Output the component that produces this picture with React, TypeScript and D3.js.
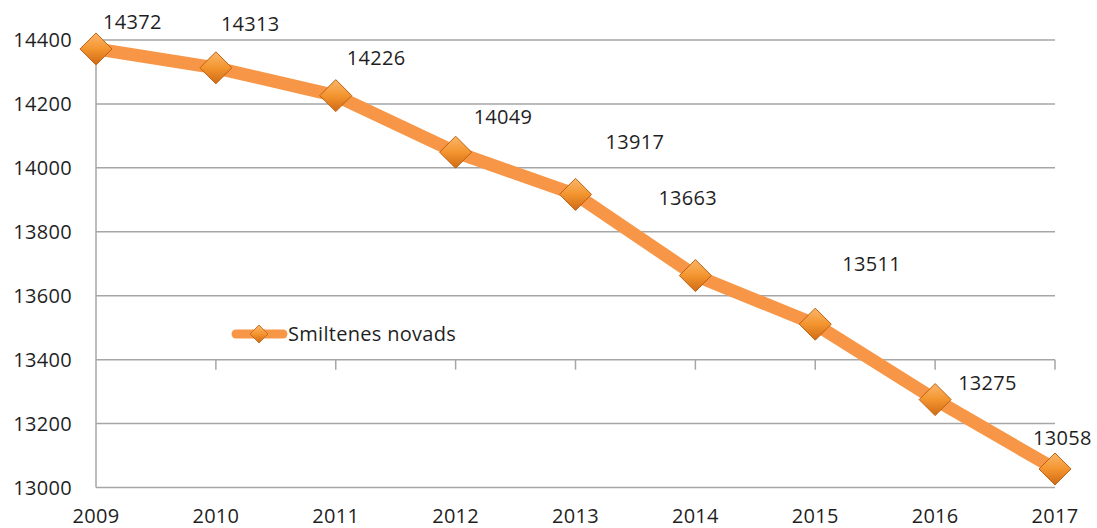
import React, { useEffect, useRef } from "react"
import * as d3 from "d3"

const years = ["2009", "2010", "2011", "2012", "2013", "2014", "2015", "2016", "2017"]
const population = [14372, 14313, 14226, 14049, 13917, 13663, 13511, 13275, 13058]
const yTicks = [13000, 13200, 13400, 13600, 13800, 14000, 14200, 14400]
const seriesName = "Smiltenes novads"

// label placement (manual, as in the source chart): left edge dx, centre dy from the point
const labelShift = [
  [7, -27], [5, -44], [11, -38], [18, -35], [30, -52],
  [-37, -78], [27, -60], [23, -17], [-22, -31]
]

const W = 1097
const H = 528
const FONT = "'Open Sans', 'Liberation Sans', sans-serif"
const FS = "20px"

function App() {
  const ref = useRef<SVGSVGElement>(null)

  useEffect(() => {
    const svg = d3.select(ref.current)
    svg.selectAll("*").remove()

    const x = d3.scalePoint().domain(years).range([96, 1055])
    const y = d3.scaleLinear().domain([13000, 14400]).range([487.5, 40])

    const defs = svg.append("defs")
    const grad = defs.append("linearGradient")
      .attr("id", "mk").attr("x1", 0).attr("y1", 0).attr("x2", 0).attr("y2", 1)
    grad.append("stop").attr("offset", "0%").attr("stop-color", "#fbb66a")
    grad.append("stop").attr("offset", "50%").attr("stop-color", "#f3952f")
    grad.append("stop").attr("offset", "100%").attr("stop-color", "#d06a15")

    // gridlines
    svg.append("g").selectAll("line").data(yTicks).enter().append("line")
      .attr("x1", 96).attr("x2", 1055)
      .attr("y1", d => y(d)).attr("y2", d => y(d))
      .attr("stroke", "#a6a6a6").attr("stroke-width", 1.5)

    // vertical axis line
    svg.append("line")
      .attr("x1", 96).attr("x2", 96).attr("y1", y(14400)).attr("y2", y(13000))
      .attr("stroke", "#a6a6a6").attr("stroke-width", 1.5)

    // category axis crosses at 13400, ticks pointing down
    svg.append("g").selectAll("line").data(years.slice(1)).enter().append("line")
      .attr("x1", d => x(d)!).attr("x2", d => x(d)!)
      .attr("y1", y(13400)).attr("y2", y(13400) + 10)
      .attr("stroke", "#a6a6a6").attr("stroke-width", 1.5)

    const txt = (sel: any) => sel
      .style("font-family", FONT).style("font-size", FS)
      .style("letter-spacing", "0.3px").attr("fill", "#1f1f1f")

    // y tick labels
    svg.append("g").selectAll("text").data(yTicks).enter().append("text")
      .attr("x", 72).attr("y", d => y(d)).attr("dy", "0.35em")
      .attr("text-anchor", "end")
      .call(txt)
      .text(d => d)

    // x tick labels
    svg.append("g").selectAll("text").data(years).enter().append("text")
      .attr("x", d => x(d)!).attr("y", 516).attr("dy", "0.35em")
      .attr("text-anchor", "middle")
      .call(txt)
      .text(d => d)

    const pts = years.map((yr, i) => [x(yr)!, y(population[i])] as [number, number])

    svg.append("path")
      .attr("d", d3.line()(pts))
      .attr("fill", "none").attr("stroke", "#f79646")
      .attr("stroke-width", 13).attr("stroke-linejoin", "round")

    const diamond = (cx: number, cy: number, r: number) =>
      `M${cx},${cy - r}L${cx + r},${cy}L${cx},${cy + r}L${cx - r},${cy}Z`

    svg.append("g").selectAll("path").data(pts).enter().append("path")
      .attr("d", d => diamond(d[0], d[1], 16))
      .attr("fill", "url(#mk)").attr("stroke", "#c0600f").attr("stroke-width", 1)

    // data labels
    svg.append("g").selectAll("text").data(pts).enter().append("text")
      .attr("x", (d, i) => d[0] + labelShift[i][0])
      .attr("y", (d, i) => d[1] + labelShift[i][1]).attr("dy", "0.35em")
      .call(txt)
      .text((d, i) => population[i])

    // legend
    const lg = svg.append("g")
    lg.append("line")
      .attr("x1", 236).attr("x2", 283).attr("y1", 334).attr("y2", 334)
      .attr("stroke", "#f79646").attr("stroke-width", 9).attr("stroke-linecap", "round")
    lg.append("path").attr("d", diamond(259, 334, 9))
      .attr("fill", "url(#mk)").attr("stroke", "#c0600f").attr("stroke-width", 0.8)
    lg.append("text")
      .attr("x", 288).attr("y", 334).attr("dy", "0.35em")
      .call(txt)
      .text(seriesName)
  }, [])

  return (
    <svg ref={ref} width={W} height={H}
      style={{ position: "absolute", left: 0, top: 0, background: "#fff" }} />
  )
}

export default App
